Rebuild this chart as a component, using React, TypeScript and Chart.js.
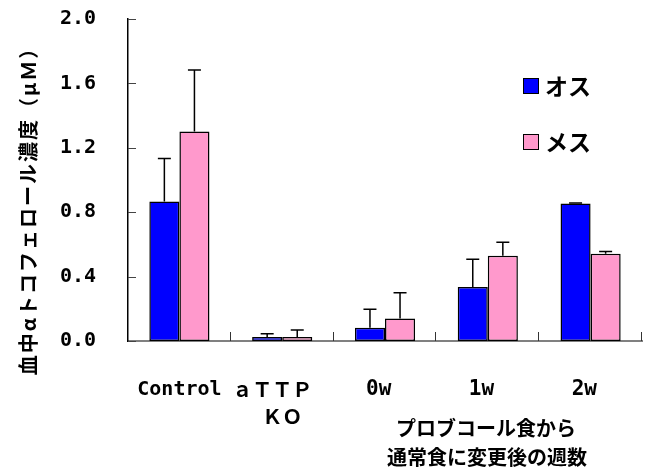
import React, { useEffect, useRef } from "react";
import { Chart, registerables } from "chart.js";

Chart.register(...registerables);

const categories: (string | string[])[] = ["Control", ["ａＴＴＰ　", "ＫＯ"], "0w ", "1w ", "2w "];
const seriesLabels = ["オス", "メス"];
const maleMeans = [0.866, 0.025, 0.083, 0.336, 0.854];
const maleSD = [0.268, 0.02, 0.114, 0.171, 0.003];
const femaleMeans = [1.302, 0.025, 0.139, 0.53, 0.542];
const femaleSD = [0.382, 0.044, 0.16, 0.083, 0.014];
const yTicks = [0, 0.4, 0.8, 1.2, 1.6, 2.0];
const yTitle = "血中αトコフェロール濃度（μＭ）";
const xNote = ["プロブコール食から", "通常食に変更後の週数"];

const CJK = '"Noto Sans CJK JP", "Noto Sans", sans-serif';
const MONO = '"DejaVu Sans Mono", "Liberation Mono", monospace';

const decorations = {
  id: "decorations",
  afterDatasetsDraw(chart: any) {
    const ctx: any = chart.ctx;
    const ys = chart.scales.y;
    const xs = chart.scales.x;
    const { left, bottom } = chart.chartArea;
    const sds = [maleSD, femaleSD];

    ctx.save();
    // error bars (upper only)
    ctx.strokeStyle = "#000";
    ctx.lineWidth = 1.5;
    chart.data.datasets.forEach((ds: any, di: number) => {
      const meta = chart.getDatasetMeta(di);
      meta.data.forEach((bar: any, i: number) => {
        const yTop = ys.getPixelForValue(ds.data[i] + sds[di][i]);
        ctx.beginPath();
        ctx.moveTo(bar.x, bar.y);
        ctx.lineTo(bar.x, yTop);
        ctx.moveTo(bar.x - 6.5, yTop);
        ctx.lineTo(bar.x + 6.5, yTop);
        ctx.stroke();
      });
    });

    // inward y ticks
    ctx.strokeStyle = "#444";
    ctx.lineWidth = 1;
    yTicks.forEach((v) => {
      const py = Math.round(ys.getPixelForValue(v)) + 0.5;
      ctx.beginPath();
      ctx.moveTo(left, py);
      ctx.lineTo(left + 8, py);
      ctx.stroke();
    });

    // upward x ticks at category boundaries
    const half = (xs.getPixelForValue(1) - xs.getPixelForValue(0)) / 2;
    ctx.strokeStyle = "#333";
    for (let i = 0; i < categories.length; i++) {
      const px = Math.round(xs.getPixelForValue(i) + half) - 0.5;
      ctx.beginPath();
      ctx.moveTo(px, bottom);
      ctx.lineTo(px, bottom - 9);
      ctx.stroke();
    }

    // legend
    chart.data.datasets.forEach((ds: any, di: number) => {
      const ly = 78 + di * 56;
      ctx.fillStyle = ds.backgroundColor;
      ctx.fillRect(523, ly, 16, 16);
      ctx.strokeStyle = "#000";
      ctx.lineWidth = 1;
      ctx.strokeRect(523.5, ly + 0.5, 15, 15);
      ctx.fillStyle = "#000";
      ctx.font = `bold 23px ${CJK}`;
      ctx.textAlign = "left";
      ctx.textBaseline = "middle";
      ctx.fillText(ds.label, 545, ly + 8);
    });

    // note under axis
    ctx.fillStyle = "#000";
    ctx.font = `bold 20px ${CJK}`;
    ctx.textAlign = "center";
    ctx.textBaseline = "middle";
    ctx.fillText(xNote[0], 486, 428);
    ctx.fillText(xNote[1], 487, 457);

    // y title
    ctx.translate(28, 206);
    ctx.rotate(-Math.PI / 2);
    ctx.font = `bold 20px ${CJK}`;
    ctx.letterSpacing = "2px";
    ctx.fillText(yTitle, 0, 0);
    ctx.letterSpacing = "0px";
    ctx.restore();
  },
};

export default function App() {
  const ref = useRef<HTMLCanvasElement | null>(null);

  useEffect(() => {
    document.body.style.margin = "0";
    if (!ref.current) return;
    const chart = new Chart(ref.current, {
      type: "bar",
      data: {
        labels: categories as any,
        datasets: [
          {
            label: seriesLabels[0],
            data: maleMeans,
            backgroundColor: "#0000FF",
            borderColor: "#000",
            borderWidth: 1.5,
            borderSkipped: false,
          },
          {
            label: seriesLabels[1],
            data: femaleMeans,
            backgroundColor: "#FF99CC",
            borderColor: "#000",
            borderWidth: 1.5,
            borderSkipped: false,
          },
        ],
      },
      options: {
        responsive: false,
        animation: false,
        devicePixelRatio: 1,
        layout: { padding: { top: 19, right: 11, left: 0, bottom: 0 } },
        datasets: { bar: { barPercentage: 1.0, categoryPercentage: 0.585 } },
        plugins: { legend: { display: false }, tooltip: { enabled: false } },
        scales: {
          x: {
            grid: { display: false, drawTicks: false },
            border: { display: true, color: "#808080", width: 2 },
            ticks: {
              color: "#000",
              padding: 35,
              maxRotation: 0,
              autoSkip: false,
              font: (c: any) =>
                c.index === 1
                  ? { family: CJK, size: 20, weight: "bold", lineHeight: "27px" }
                  : { family: MONO, size: c.index === 0 ? 20 : 21, weight: "bold", lineHeight: "27px" },
            },
            afterFit: (s: any) => {
              s.height = 127;
              s.paddingLeft = 0;
              s.paddingRight = 0;
            },
          },
          y: {
            min: 0,
            max: 2,
            grid: { display: false, drawTicks: false },
            border: { display: true, color: "#000", width: 1.5 },
            afterBuildTicks: (s: any) => {
              s.ticks = yTicks.map((v) => ({ value: v }));
            },
            ticks: {
              color: "#000",
              padding: 32,
              font: { family: MONO, size: 20, weight: "bold" },
              callback: (v: any) => Number(v).toFixed(1),
            },
            afterFit: (s: any) => {
              s.width = 128;
              s.paddingTop = 10;
              s.paddingBottom = 10;
            },
          },
        },
      },
      plugins: [decorations],
    });
    return () => chart.destroy();
  }, []);

  return (
    <div style={{ width: 653, height: 468 }}>
      <canvas ref={ref} width={653} height={468} />
    </div>
  );
}
